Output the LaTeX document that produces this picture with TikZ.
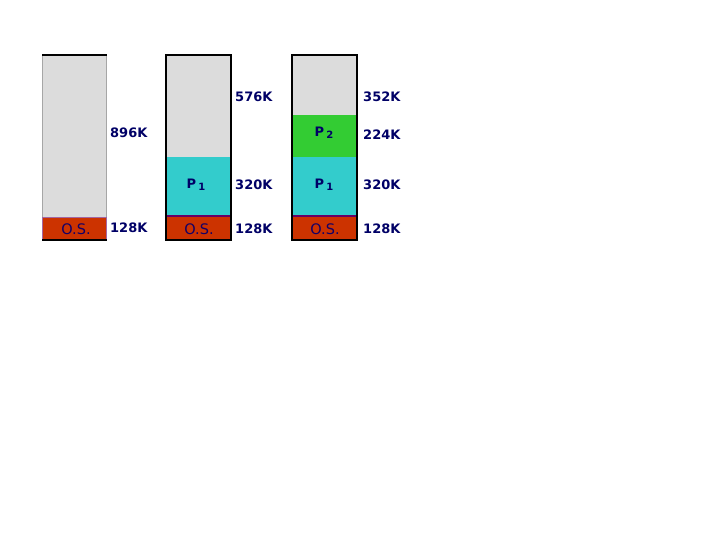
\documentclass[tikz,border=0pt]{standalone}
\usepackage{fontspec}
\setmainfont{DejaVu Sans}
\definecolor{emptyc}{RGB}{220,220,220}
\definecolor{cyanc}{RGB}{51,204,204}
\definecolor{greenc}{RGB}{51,204,51}
\definecolor{osc}{RGB}{204,51,0}
\definecolor{txtc}{RGB}{0,0,102}
\definecolor{sepc}{RGB}{102,0,102}
\newcommand{\psub}[1]{P\,\raisebox{-0.35ex}{\fontsize{10}{12}\selectfont #1}}
\begin{document}
\begin{tikzpicture}[x=1pt,y=-1pt,
  lab/.style={text=txtc,font=\fontsize{13}{14}\selectfont\bfseries,inner sep=0pt,anchor=west},
  inlab/.style={text=txtc,font=\fontsize{13}{14}\selectfont\bfseries,inner sep=0pt},
  oslab/.style={text=txtc!80!sepc,font=\fontsize{14.5}{16}\selectfont,inner sep=0pt}]
\useasboundingbox (0,0) rectangle (720,540);
% Column 1
\fill[emptyc] (42,55) rectangle (107,217);
\draw[gray!70,line width=1pt] (42.5,55) -- (42.5,217) (106.5,55) -- (106.5,217);
\fill[osc] (42,217) rectangle (107,240);
\draw[sepc!60,line width=0.8pt] (42.4,217.4) rectangle (106.6,239.6);
\draw[black,line width=2pt] (42,55) -- (107,55);
\draw[black,line width=2pt] (42,240) -- (107,240);
\node[oslab] (os1) at (76,229) {O.S.};
\node[lab] (l1a) at (110,133) {896K};
\node[lab] (l1b) at (110,228) {128K};
% Column 2
\fill[emptyc] (166,55) rectangle (231,157);
\fill[cyanc] (166,157) rectangle (231,216);
\fill[osc] (166,216) rectangle (231,240);
\draw[sepc,line width=1.5pt] (166,216) -- (231,216);
\draw[black,line width=2pt] (166,55) rectangle (231,240);
\node[inlab] (p1b) at (196,185) {\psub{1}};
\node[oslab] (os2) at (199,229) {O.S.};
\node[lab] (l2a) at (235,97) {576K};
\node[lab] (l2b) at (235,185) {320K};
\node[lab] (l2c) at (235,229) {128K};
% Column 3
\fill[emptyc] (292,55) rectangle (357,115);
\fill[greenc] (292,115) rectangle (357,157);
\fill[cyanc] (292,157) rectangle (357,216);
\fill[osc] (292,216) rectangle (357,240);
\draw[sepc,line width=1.5pt] (292,216) -- (357,216);
\draw[black,line width=2pt] (292,55) rectangle (357,240);
\node[inlab] (p2c) at (324,133) {\psub{2}};
\node[inlab] (p1c) at (324,185) {\psub{1}};
\node[oslab] (os3) at (325,229) {O.S.};
\node[lab] (l3a) at (363,97) {352K};
\node[lab] (l3b) at (363,135) {224K};
\node[lab] (l3c) at (363,185) {320K};
\node[lab] (l3d) at (363,229) {128K};
\end{tikzpicture}
\end{document}
